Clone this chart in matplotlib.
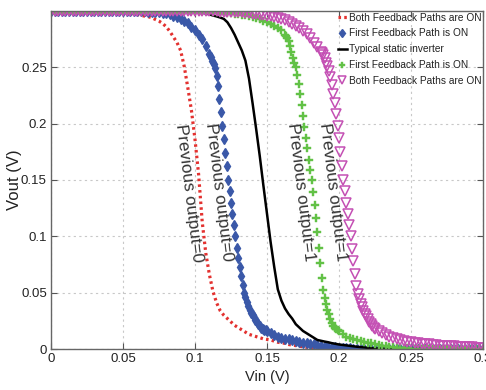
import numpy as np
import matplotlib
matplotlib.use("Agg")
import matplotlib.pyplot as plt

plt.rcParams['font.family'] = ['Liberation Sans', 'DejaVu Sans']


def sweep(a, b, step):
    return np.round(np.arange(a, b + step / 2, step), 4)


# ---- Data (Vin sweep and Vout) ----
vin_red = sweep(0, 0.3, 0.0025)
vout_red = [
    0.3, 0.3, 0.3, 0.3, 0.3, 0.3, 0.3, 0.3, 0.3, 0.3, 0.3, 0.3, 0.3, 0.3, 0.3, 0.3, 0.3, 0.3,
    0.2995, 0.2993, 0.299, 0.2985, 0.298, 0.2975, 0.297, 0.296, 0.2955, 0.295, 0.294, 0.2925,
    0.291, 0.289, 0.286, 0.282, 0.277, 0.272, 0.265, 0.251, 0.232, 0.212, 0.186, 0.155, 0.113,
    0.085, 0.066, 0.051, 0.041, 0.034, 0.030, 0.027, 0.024, 0.021, 0.019, 0.017, 0.015, 0.013,
    0.012, 0.011, 0.010, 0.009, 0.0085, 0.008, 0.007, 0.006, 0.0055, 0.005, 0.004, 0.0035,
    0.003, 0.0025, 0.002, 0.0015, 0.001, 0.0008, 0.0006, 0.0005, 0.0004, 0.0003, 0.0002, 0.0001,
    0, 0, 0, 0, 0, 0, 0, 0, 0, 0, 0, 0, 0, 0, 0, 0, 0, 0, 0, 0, 0,
    0, 0, 0, 0, 0, 0, 0, 0, 0, 0, 0, 0, 0, 0, 0, 0, 0, 0, 0, 0,
]

vin_blue = np.r_[sweep(0, 0.1075, 0.0025), sweep(0.110, 0.150, 0.001), sweep(0.1525, 0.3, 0.0025)]
vout_blue = [
    0.3, 0.3, 0.3, 0.3, 0.3, 0.3, 0.3, 0.3, 0.3, 0.3, 0.3, 0.3, 0.3, 0.3, 0.3, 0.3, 0.3, 0.3,
    0.3, 0.3, 0.3, 0.3, 0.3, 0.3, 0.3,
    0.2998, 0.2996, 0.2994, 0.2992, 0.299, 0.2987, 0.2983, 0.298, 0.297, 0.296, 0.2945, 0.293,
    0.291, 0.289, 0.286, 0.283, 0.279, 0.275, 0.269,
    0.262, 0.259, 0.256, 0.253, 0.249, 0.242, 0.233, 0.222, 0.21, 0.198, 0.186, 0.174, 0.162,
    0.15, 0.14, 0.13, 0.12, 0.11, 0.10, 0.09, 0.081, 0.073, 0.065, 0.057, 0.05, 0.046, 0.042,
    0.038, 0.035, 0.032, 0.030, 0.028, 0.026, 0.024, 0.022, 0.020, 0.019, 0.018, 0.017,
    0.0165, 0.016,
    0.014, 0.012, 0.011, 0.010, 0.0093, 0.0085, 0.0078, 0.007, 0.0063, 0.0056, 0.005, 0.0045,
    0.004, 0.0035, 0.003, 0.0026, 0.0022, 0.0018, 0.0014, 0.0011, 0.0009, 0.0007, 0.0005,
    0.0004, 0.0003, 0.0002, 0.0001,
    0, 0, 0, 0, 0, 0, 0, 0, 0, 0, 0, 0, 0, 0, 0, 0, 0, 0, 0, 0, 0, 0, 0, 0, 0, 0, 0, 0, 0, 0,
    0, 0, 0,
]

vin_black = sweep(0, 0.3, 0.0025)
vout_black = [
    0.3, 0.3, 0.3, 0.3, 0.3, 0.3, 0.3, 0.3, 0.3, 0.3, 0.3, 0.3, 0.3, 0.3, 0.3, 0.3, 0.3, 0.3,
    0.3, 0.3, 0.3, 0.3, 0.3, 0.3, 0.3, 0.3, 0.3, 0.3, 0.3, 0.3, 0.3, 0.3, 0.3, 0.3, 0.3, 0.3, 0.3,
    0.2998, 0.2996, 0.2994, 0.2992, 0.299, 0.2985, 0.2978, 0.297, 0.296, 0.2952, 0.2942, 0.293,
    0.29, 0.285, 0.279, 0.272, 0.265, 0.256, 0.24, 0.218, 0.195, 0.171, 0.145, 0.12, 0.095,
    0.073, 0.053, 0.043, 0.036, 0.031, 0.027, 0.022, 0.019, 0.016, 0.014, 0.012, 0.01, 0.008,
    0.0073, 0.0066, 0.006, 0.0052, 0.0046, 0.004, 0.0036, 0.0032, 0.0028, 0.0024, 0.002,
    0.0017, 0.0014, 0.001, 0.0008, 0.0006, 0.0005, 0.0004, 0.0003, 0.0002, 0.0001,
    0, 0, 0, 0, 0, 0, 0, 0, 0, 0, 0, 0, 0, 0, 0, 0, 0, 0, 0, 0, 0, 0, 0, 0, 0,
]

vin_green = np.r_[sweep(0, 0.1625, 0.0025), sweep(0.163, 0.200, 0.001), sweep(0.2025, 0.3, 0.0025)]
vout_green = [
    0.3, 0.3, 0.3, 0.3, 0.3, 0.3, 0.3, 0.3, 0.3, 0.3, 0.3, 0.3, 0.3, 0.3, 0.3, 0.3, 0.3, 0.3,
    0.3, 0.3, 0.3, 0.3, 0.3, 0.3, 0.3, 0.3, 0.3, 0.3, 0.3, 0.3, 0.3, 0.3, 0.3, 0.3, 0.3, 0.3,
    0.3, 0.3, 0.3, 0.3, 0.3,
    0.2999, 0.2998, 0.2997, 0.2996, 0.2995, 0.2993, 0.2991, 0.299, 0.2985, 0.298, 0.2975,
    0.297, 0.2966, 0.2962, 0.2956, 0.295, 0.294, 0.293, 0.2915, 0.29, 0.2885, 0.287, 0.285,
    0.283, 0.279,
    0.278, 0.276, 0.273, 0.269, 0.264, 0.258, 0.254, 0.25, 0.243, 0.235, 0.226, 0.217, 0.207,
    0.197, 0.187, 0.178, 0.168, 0.159, 0.15, 0.139, 0.128, 0.116, 0.104, 0.09, 0.076, 0.063,
    0.052, 0.045, 0.04, 0.035, 0.031, 0.027, 0.023, 0.020, 0.0185, 0.0175, 0.0167, 0.016,
    0.013, 0.011, 0.0097, 0.0088, 0.008, 0.0072, 0.0064, 0.0057, 0.005, 0.0043, 0.0037,
    0.0031, 0.0026, 0.0021, 0.0016, 0.0012, 0.0009, 0.0007, 0.0005, 0.0004, 0.0003, 0.0002,
    0.0001,
    0, 0, 0, 0, 0, 0, 0, 0, 0, 0, 0, 0, 0, 0, 0, 0, 0,
]

vin_mag = np.r_[sweep(0, 0.1875, 0.0025), sweep(0.188, 0.225, 0.001), sweep(0.2275, 0.3, 0.0025)]
vout_mag = [
    0.3, 0.3, 0.3, 0.3, 0.3, 0.3, 0.3, 0.3, 0.3, 0.3, 0.3, 0.3, 0.3, 0.3, 0.3, 0.3, 0.3, 0.3,
    0.3, 0.3, 0.3, 0.3, 0.3, 0.3, 0.3, 0.3, 0.3, 0.3, 0.3, 0.3, 0.3, 0.3, 0.3, 0.3, 0.3, 0.3,
    0.3, 0.3, 0.3, 0.3, 0.3,
    0.2999, 0.2999, 0.2998, 0.2998, 0.2997, 0.2996, 0.2995, 0.2994, 0.2993, 0.2992, 0.2991,
    0.299, 0.2987, 0.2984, 0.298, 0.2976, 0.2972, 0.2968, 0.2964, 0.296, 0.2953, 0.2946,
    0.2938, 0.293, 0.2918, 0.2905, 0.2888, 0.287, 0.285, 0.2825, 0.2795, 0.276, 0.272, 0.268,
    0.264,
    0.263, 0.261, 0.258, 0.254, 0.251, 0.247, 0.241, 0.234, 0.226, 0.218, 0.209, 0.198, 0.187,
    0.175, 0.162, 0.15, 0.14, 0.13, 0.12, 0.11, 0.10, 0.089, 0.078, 0.067, 0.056, 0.049, 0.044,
    0.040, 0.037, 0.034, 0.031, 0.029, 0.027, 0.024, 0.022, 0.020, 0.019, 0.018,
    0.016, 0.014, 0.012, 0.011, 0.01, 0.0088, 0.008, 0.0073, 0.0066, 0.006, 0.0055, 0.005,
    0.0047, 0.0043, 0.004, 0.0037, 0.0034, 0.0031, 0.0029, 0.0027, 0.0025, 0.0023, 0.0021,
    0.0019, 0.0017, 0.0016, 0.0014, 0.0013, 0.0011, 0.001,
]

labels = ['Both Feedback Paths are ON', 'First Feedback Path is ON',
          'Typical static inverter', 'First Feedback Path is ON',
          'Both Feedback Paths are ON']

annotations = ['Previous output=0', 'Previous output=0',
               'Previous output=1', 'Previous output=1']
ann_x = [0.0958, 0.1167, 0.1735, 0.1955]
ann_y = [0.138, 0.139, 0.139, 0.139]

xticks = [0, 0.05, 0.1, 0.15, 0.2, 0.25, 0.3]
xticklabels = ['0', '0.05', '0.1', '0.15', '0.2', '0.25', '0.3']
yticks = [0, 0.05, 0.1, 0.15, 0.2, 0.25]
yticklabels = ['0', '0.05', '0.1', '0.15', '0.2', '0.25']

# ---- Figure ----
fig = plt.figure(figsize=(4.86, 3.90), dpi=100)
ax = fig.add_axes([51/486, 41/390, 432/486, 338/390])

ax.plot(vin_red, vout_red, color='#e3312f', lw=2.3, ls=(0, (0.8, 1.0)),
        dash_capstyle='butt', label=labels[0])
ax.plot(vin_blue, vout_blue, ls='none', marker='d', ms=5.5, color='#3a58a8',
        mec='#3a58a8', label=labels[1])
ax.plot(vin_black, vout_black, color='black', lw=1.8, label=labels[2])
ax.plot(vin_green, vout_green, ls='none', marker='P', ms=6, color='#62c146',
        mec='#62c146', mew=0.3, label=labels[3])
ax.plot(vin_mag, vout_mag, ls='none', marker='v', ms=6.5, mfc='none',
        mec='#c450b4', mew=1.1, label=labels[4])

for t, x, y in zip(annotations, ann_x, ann_y):
    ax.text(x, y, t, rotation=-83, rotation_mode='anchor', ha='center', va='center',
            fontsize=12.3, color='#333333')

ax.set_xlim(0, 0.3)
ax.set_ylim(0, 0.3)
ax.set_xticks(xticks)
ax.set_xticklabels(xticklabels)
ax.set_yticks(yticks)
ax.set_yticklabels(yticklabels)
ax.tick_params(direction='in', top=True, right=True, length=4, width=0.8,
               labelsize=9.5, colors='#555555', labelcolor='#222222', pad=3)
ax.grid(True, ls=(0, (2, 3)), color='#c8c8c8', lw=0.8)
for s in ax.spines.values():
    s.set_color('#666666')
    s.set_linewidth(1.0)
ax.set_xlabel('Vin (V)', fontsize=10.5, color='#222222')
ax.xaxis.set_label_coords(0.5, -0.062)
ax.set_ylabel('Vout (V)', fontsize=12, color='#222222')
ax.yaxis.set_label_coords(-0.067, 0.5)

leg = ax.legend(loc='upper right', bbox_to_anchor=(1.0, 1.0), frameon=False,
                fontsize=7.3, handlelength=0.9, handletextpad=0.2, labelspacing=0.58,
                borderaxespad=0.0, borderpad=0.15, markerscale=0.8)
for t in leg.get_texts():
    t.set_color('#222222')

fig.savefig('out.png', dpi=100)
